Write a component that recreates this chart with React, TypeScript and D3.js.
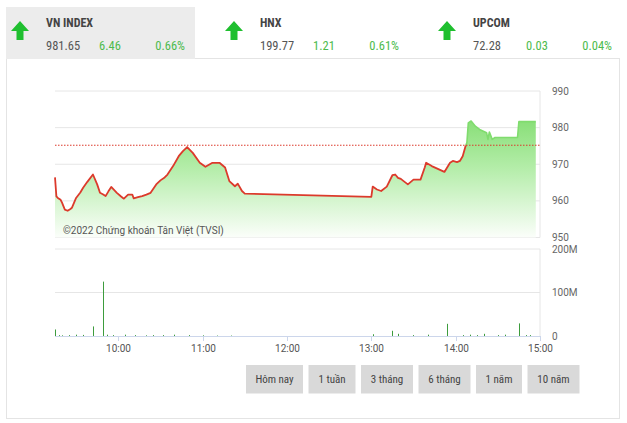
import React from 'react';
import * as d3 from 'd3';

// ---------- DATA ----------
const indexNames = ['VN INDEX', 'HNX', 'UPCOM'];
const indexValues = ['981.65', '199.77', '72.28'];
const indexChanges = ['6.46', '1.21', '0.03'];
const indexPercents = ['0.66%', '0.61%', '0.04%'];

const priceTimes = [
  '09:15', '09:16', '09:17', '09:19', '09:20', '09:22', '09:24', '09:26', '09:27', '09:30',
  '09:33', '09:35', '09:38', '09:42', '09:45', '09:47', '09:49', '09:51', '09:53', '09:55',
  '09:59', '10:02', '10:04', '10:07', '10:10', '10:11', '10:14', '10:17', '10:20', '10:23',
  '10:27', '10:30', '10:33', '10:35', '10:39', '10:43', '10:46', '10:49', '10:53', '10:58',
  '11:02', '11:07', '11:12', '11:16', '11:19', '11:23', '11:25', '11:28', '11:30',
  '13:00', '13:01', '13:04', '13:07', '13:11', '13:15', '13:17', '13:19', '13:21', '13:23',
  '13:26', '13:30', '13:35', '13:38', '13:39', '13:43', '13:52', '13:56', '13:58', '14:01',
  '14:03', '14:05', '14:07', '14:08', '14:09', '14:11', '14:14', '14:17', '14:22', '14:23',
  '14:24', '14:26', '14:28', '14:44', '14:45', '14:57'
];
const priceValues = [
  966.4, 961.2, 960.8, 960.3, 959.5, 957.6, 957.3, 957.8, 958.1, 960.8,
  962.3, 963.6, 965.2, 967.2, 964.5, 962.2, 961.8, 961.3, 962.6, 963.8,
  962.2, 961.2, 960.6, 961.7, 961.7, 960.7, 961.0, 961.3, 961.7, 962.2,
  964.5, 965.6, 966.4, 967.2, 969.5, 972.2, 973.6, 974.7, 973.1, 970.4,
  969.3, 970.4, 970.4, 969.1, 965.4, 964.0, 964.7, 962.7, 962.0,
  961.1, 963.9, 963.1, 962.7, 963.9, 967.0, 967.2, 966.3, 966.0, 965.4,
  964.5, 965.8, 965.8, 969.1, 970.4, 969.5, 967.9, 970.4, 970.9, 970.6,
  970.9, 972.2, 974.9, 975.9, 981.3, 981.8, 980.4, 979.5, 978.6, 976.8,
  978.8, 976.8, 977.3, 977.3, 981.65, 981.65
];
const referenceValue = 975.19;

const volumeTimes = [
  '09:15', '09:18', '09:20', '09:25', '09:30', '09:35', '09:42', '09:49', '09:52', '09:56',
  '10:05', '10:12', '10:20', '10:25', '10:32', '10:40', '10:50', '11:00', '11:10', '11:20',
  '13:01', '13:15', '13:19', '13:30', '13:40', '13:54', '14:05', '14:10', '14:15', '14:20',
  '14:30', '14:35', '14:45', '14:50', '14:53'
];
const volumeValues = [
  15, 2, 1.5, 2, 3, 2.5, 22, 125, 3, 2,
  3, 2, 1.5, 2, 2, 3, 2, 1.5, 1, 1,
  4, 12, 5, 2, 3, 28, 2, 3, 2, 5,
  2, 3, 29, 2, 2
];

const priceTicks = [950, 960, 970, 980, 990];
const volumeTicks = [0, 100, 200];
const timeTicks = ['10:00', '11:00', '12:00', '13:00', '14:00', '15:00'];
const rangeButtons = ['Hôm nay', '1 tuần', '3 tháng', '6 tháng', '1 năm', '10 năm'];
const creditText = '©2022 Chứng khoán Tân Việt (TVSI)';

// ---------- LAYOUT ----------
const W = 627;
const H = 423;
const plotLeft = 55;
const plotRight = 540;
const priceTop = 91;
const priceBottom = 237.5;
const volTop = 249;
const volBottom = 336;
const tabXs = [6, 220, 433];
const buttonWidths = [57, 47, 52, 52, 46, 52];
const buttonStart = 246;
const buttonGap = 5.5;

const RED = '#dc3a2c';
const UPGREEN = '#4cbb4c';
const FILLGREEN = '#80dc6e';
const CHART_FONT = 'Roboto, "Liberation Sans", sans-serif';
const HEAD_FONT = '"Roboto Condensed", "Liberation Sans Narrow", "DejaVu Sans Condensed", Roboto, sans-serif';

const parse = d3.timeParse('%H:%M');

export default function App() {
  const x = d3.scaleTime()
    .domain([parse('09:15') as Date, parse('15:00') as Date])
    .range([plotLeft, plotRight]);
  const y = d3.scaleLinear().domain([950, 990]).range([priceBottom, priceTop]);
  const yv = d3.scaleLinear().domain([0, 200]).range([volBottom, volTop]);

  const pts = priceTimes.map((t, i) => ({ t: parse(t) as Date, v: priceValues[i] }));
  const area = d3.area<{ t: Date; v: number }>()
    .x(d => x(d.t)).y0(y(950)).y1(d => y(d.v));
  const line = d3.line<{ t: Date; v: number }>()
    .x(d => x(d.t)).y(d => y(d.v));
  const refY = y(referenceValue);

  let bx = buttonStart;
  const buttons = rangeButtons.map((label, i) => {
    const b = { label, x: bx, w: buttonWidths[i] };
    bx += buttonWidths[i] + buttonGap;
    return b;
  });

  return (
    <svg width={W} height={H} style={{ position: 'absolute', left: 0, top: 0, background: '#fff' }}>
      <defs>
        <linearGradient id="gfill" gradientUnits="userSpaceOnUse" x1="0" y1={priceTop + 20} x2="0" y2={priceBottom}>
          <stop offset="0" stopColor={FILLGREEN} />
          <stop offset="0.45" stopColor="#b4eda9" />
          <stop offset="1" stopColor="#fbfefa" />
        </linearGradient>
        <clipPath id="below">
          <rect x={0} y={refY} width={W} height={H} />
        </clipPath>
        <clipPath id="above">
          <rect x={0} y={0} width={W} height={refY} />
        </clipPath>
      </defs>

      {/* panel */}
      <rect x={6.5} y={58.5} width={613} height={360} fill="#fff" stroke="#e4e4e4" />
      {/* tab background */}
      <rect x={6} y={7} width={189} height={52} fill="#ececec" />

      {indexNames.map((name, i) => {
        const tx = tabXs[i];
        return (
          <g key={name} fontFamily={HEAD_FONT}>
            <path
              d={`M${tx + 14},${21} L${tx + 23},${31} L${tx + 17.5},${31} L${tx + 17.5},${40} L${tx + 10.5},${40} L${tx + 10.5},${31} L${tx + 5},${31} Z`}
              fill="#1fbf2f"
            />
            <text x={tx + 40} y={27} fontSize={12} fontWeight="bold" fill="#444">{name}</text>
            <text x={tx + 40} y={50} fontSize={12.5} fill="#555">{indexValues[i]}</text>
            <text x={tx + 93} y={50} fontSize={12.5} fill={UPGREEN}>{indexChanges[i]}</text>
            <text x={tx + 179} y={50} fontSize={12.5} fill={UPGREEN} textAnchor="end">{indexPercents[i]}</text>
          </g>
        );
      })}

      {/* price grid */}
      {priceTicks.map(t => (
        <line key={t} x1={plotLeft} x2={plotRight} y1={y(t)} y2={y(t)} stroke="#e6e6e6" />
      ))}
      <line x1={plotRight} x2={plotRight} y1={priceTop} y2={priceBottom} stroke="#e6e6e6" />

      {/* area + line */}
      <path d={area(pts) || ''} fill="url(#gfill)" />
      <path d={line(pts) || ''} fill="none" stroke={RED} strokeWidth={1.8} clipPath="url(#below)" strokeLinejoin="round" />
      <path d={line(pts) || ''} fill="none" stroke={FILLGREEN} strokeWidth={1.6} clipPath="url(#above)" strokeLinejoin="round" />
      <line x1={plotLeft} x2={plotRight} y1={refY} y2={refY} stroke={RED} strokeWidth={1} strokeDasharray="1.5,1.5" />

      <text x={63} y={233.5} fontSize={10} fill="#555" fontFamily={CHART_FONT}>{creditText}</text>

      {priceTicks.map(t => (
        <text key={t} x={552} y={y(t) + 3.5} fontSize={10} fill="#666" fontFamily={CHART_FONT}>{t}</text>
      ))}

      {/* volume grid */}
      {volumeTicks.filter(t => t > 0).map(t => (
        <line key={t} x1={plotLeft} x2={plotRight} y1={yv(t)} y2={yv(t)} stroke="#e6e6e6" />
      ))}
      <line x1={plotRight} x2={plotRight} y1={volTop} y2={volBottom} stroke="#e6e6e6" />
      <line x1={plotLeft} x2={plotRight} y1={volBottom + 0.5} y2={volBottom + 0.5} stroke="#ccd6eb" />
      {volumeTimes.map((t, i) => {
        const px = Math.round(x(parse(t) as Date)) + 0.5;
        return (
          <line key={t} x1={px} x2={px} y1={volBottom} y2={yv(volumeValues[i])} stroke="#3d9c3d" strokeWidth={1} />
        );
      })}
      {volumeTicks.map(t => (
        <text key={t} x={552} y={yv(t) + 3.5} fontSize={10} fill="#666" fontFamily={CHART_FONT}>
          {t === 0 ? '0' : `${t}M`}
        </text>
      ))}

      {/* time axis */}
      {timeTicks.map(t => {
        const px = Math.round(x(parse(t) as Date)) + 0.5;
        return (
          <g key={t}>
            <line x1={px} x2={px} y1={volBottom} y2={volBottom + 5} stroke="#ccd6eb" />
            <text x={px} y={352} fontSize={10} fill="#555" textAnchor="middle" fontFamily={CHART_FONT}>{t}</text>
          </g>
        );
      })}

      {/* range buttons */}
      {buttons.map(b => (
        <g key={b.label}>
          <rect x={b.x} y={365} width={b.w} height={28.5} fill="#d9d9d9" />
          <text x={b.x + b.w / 2} y={383} fontSize={11} fill="#444" textAnchor="middle" fontFamily={HEAD_FONT}>{b.label}</text>
        </g>
      ))}
    </svg>
  );
}
